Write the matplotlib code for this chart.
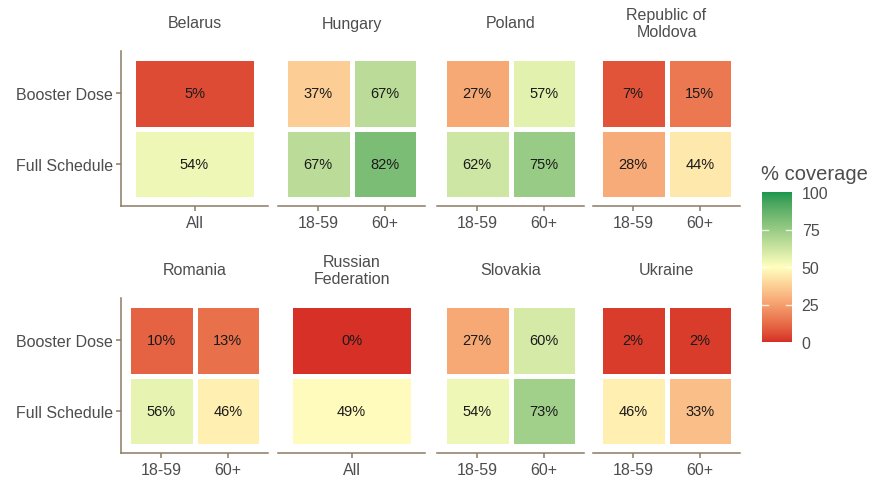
import numpy as np
import matplotlib
matplotlib.use("Agg")
from matplotlib import pyplot as plt
from matplotlib.colors import ListedColormap, Normalize

plt.rcParams['font.family'] = ['Liberation Sans', 'DejaVu Sans']

# data: one entry per facet, values are % coverage
countries = ["Belarus", "Hungary", "Poland", "Republic of\nMoldova",
             "Romania", "Russian\nFederation", "Slovakia", "Ukraine"]
age_groups = [["All"], ["18-59", "60+"], ["18-59", "60+"], ["18-59", "60+"],
              ["18-59", "60+"], ["All"], ["18-59", "60+"], ["18-59", "60+"]]
doses = ["Full Schedule", "Booster Dose"]
booster = [[5], [37, 67], [27, 57], [7, 15], [10, 13], [0], [27, 60], [2, 2]]
full_schedule = [[54], [67, 82], [62, 75], [28, 44], [56, 46], [49], [54, 73], [46, 33]]

W, H = 872, 481
axis_col = "#8c7b64"
txt_col = "#4d4d4d"
fs = 11.5


# ---- diverging gradient interpolated in Lab (like ggplot's gradient2) ----
def srgb_to_lab(c):
    c = np.asarray(c, float)
    lin = np.where(c <= 0.04045, c / 12.92, ((c + 0.055) / 1.055) ** 2.4)
    M = np.array([[0.4124, 0.3576, 0.1805],
                  [0.2126, 0.7152, 0.0722],
                  [0.0193, 0.1192, 0.9505]])
    xyz = M @ lin / np.array([0.95047, 1.0, 1.08883])
    f = np.where(xyz > 0.008856, np.cbrt(xyz), 7.787 * xyz + 16 / 116)
    return np.array([116 * f[1] - 16, 500 * (f[0] - f[1]), 200 * (f[1] - f[2])])


def lab_to_srgb(lab):
    L, a, b = lab
    fy = (L + 16) / 116
    fx = fy + a / 500
    fz = fy - b / 200
    f = np.array([fx, fy, fz])
    xyz = np.where(f ** 3 > 0.008856, f ** 3, (f - 16 / 116) / 7.787)
    xyz = xyz * np.array([0.95047, 1.0, 1.08883])
    Minv = np.array([[3.2406, -1.5372, -0.4986],
                     [-0.9689, 1.8758, 0.0415],
                     [0.0557, -0.2040, 1.0570]])
    lin = Minv @ xyz
    c = np.where(lin <= 0.0031308, 12.92 * lin, 1.055 * np.clip(lin, 0, None) ** (1 / 2.4) - 0.055)
    return np.clip(c, 0, 1)


def hex_rgb(h):
    return np.array([int(h[i:i + 2], 16) / 255 for i in (1, 3, 5)])


low, mid, high = (srgb_to_lab(hex_rgb(h)) for h in ("#d73027", "#ffffbf", "#1a9850"))
cols = []
for t in np.linspace(0, 1, 256):
    if t < 0.5:
        lab = low + (mid - low) * (t / 0.5)
    else:
        lab = mid + (high - mid) * ((t - 0.5) / 0.5)
    cols.append(lab_to_srgb(lab))
cmap = ListedColormap(cols)
norm = Normalize(0, 100)

fig = plt.figure(figsize=(W / 100, H / 100), dpi=100)

lefts = [121, 278, 437, 593]
rows = [(52, 207), (299, 454)]  # top, bottom in px
pw = 147

for i, country in enumerate(countries):
    r, c = divmod(i, 4)
    top, bot = rows[r]
    ax = fig.add_axes([lefts[c] / W, 1 - bot / H, pw / W, (bot - top) / H])
    groups = age_groups[i]
    n = len(groups)
    vals = np.array([full_schedule[i], booster[i]])
    xe = np.arange(n + 1) + 0.5
    ye = np.array([0.5, 1.5, 2.5])
    ax.pcolormesh(xe, ye, vals, cmap=cmap, norm=norm, edgecolors="white", linewidth=2.2)
    for yi in range(2):
        for xi in range(n):
            ax.text(xi + 1, yi + 1, f"{vals[yi, xi]}%", ha="center", va="center",
                    fontsize=10.5, color="#1a1a1a")
    ax.set_xlim(0.4, n + 0.6)
    ax.set_ylim(0.4, 2.6)
    ax.set_xticks(np.arange(1, n + 1))
    ax.set_xticklabels(groups)
    for s in ("top", "right"):
        ax.spines[s].set_visible(False)
    ax.spines["bottom"].set_color(axis_col)
    ax.spines["bottom"].set_linewidth(1.1)
    ax.tick_params(axis="x", colors=axis_col, labelcolor=txt_col, labelsize=fs,
                   length=3.5, width=1.1, pad=3)
    if c == 0:
        ax.spines["left"].set_color(axis_col)
        ax.spines["left"].set_linewidth(1.1)
        ax.set_yticks([1, 2])
        ax.set_yticklabels(doses)
        ax.tick_params(axis="y", colors=axis_col, labelcolor=txt_col, labelsize=fs,
                       length=3.5, width=1.1, pad=2)
    else:
        ax.spines["left"].set_visible(False)
        ax.set_yticks([])
    fig.text((lefts[c] + pw / 2) / W, 1 - (top - 28) / H, country, ha="center", va="center",
             fontsize=fs, color=txt_col, linespacing=1.15)

# colour bar
cax = fig.add_axes([762 / W, 1 - 343 / H, 30 / W, 150 / H])
grad = np.linspace(0, 100, 300).reshape(-1, 1)
cax.imshow(grad, cmap=cmap, norm=norm, aspect="auto", origin="lower", extent=[0, 1, 0, 100])
for v in (25, 50, 75):
    cax.plot([0, 0.2], [v, v], color="white", lw=1, alpha=0.8)
    cax.plot([0.8, 1], [v, v], color="white", lw=1, alpha=0.8)
cax.set_xlim(0, 1)
cax.set_ylim(0, 100)
cax.set_xticks([])
cax.yaxis.tick_right()
cax.set_yticks([0, 25, 50, 75, 100])
cax.tick_params(axis="y", length=0, labelsize=fs, labelcolor=txt_col, pad=7)
for s in cax.spines.values():
    s.set_visible(False)
fig.text(761 / W, 1 - 174 / H, "% coverage", ha="left", va="center",
         fontsize=14.5, color=txt_col)

fig.savefig("out.png", dpi=100)
